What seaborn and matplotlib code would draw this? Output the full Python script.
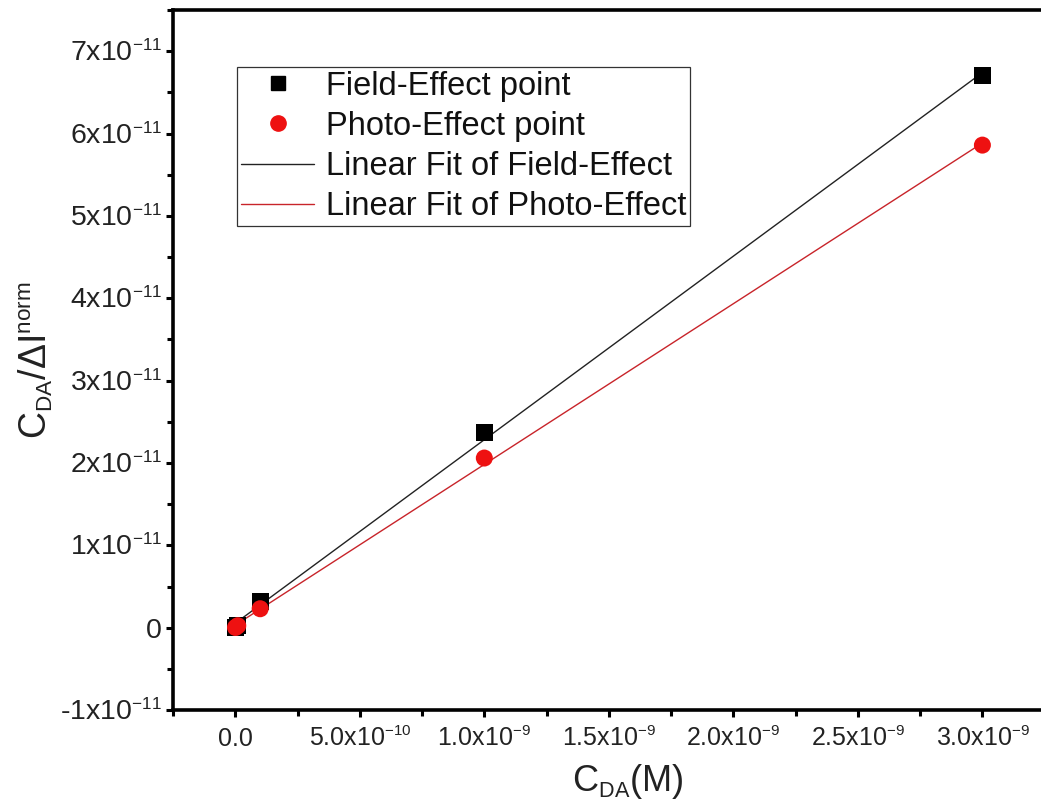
import numpy as np
import pandas as pd
import matplotlib
matplotlib.use("Agg")
import matplotlib.pyplot as plt
import matplotlib._mathtext as _mt
import seaborn as sns
from matplotlib.ticker import MultipleLocator, FixedLocator
from matplotlib.lines import Line2D

# Concentration of DA (M) and normalised response ratio for both effects
conc = [1e-12, 1e-11, 1e-10, 1e-9, 3e-9]
field_ratio = [3.0e-14, 2.8e-13, 3.2e-12, 2.37e-11, 6.71e-11]
photo_ratio = [2.5e-14, 2.4e-13, 2.3e-12, 2.06e-11, 5.86e-11]

series_names = ["Field-Effect point", "Photo-Effect point"]
fit_names = ["Linear Fit of Field-Effect", "Linear Fit of Photo-Effect"]

x_ticks = [0.0, 5e-10, 1e-9, 1.5e-9, 2e-9, 2.5e-9, 3e-9]
x_tick_labels = ["0.0", "5.0x10$^{-10}$", "1.0x10$^{-9}$", "1.5x10$^{-9}$",
                 "2.0x10$^{-9}$", "2.5x10$^{-9}$", "3.0x10$^{-9}$"]
y_ticks = [-1e-11, 0, 1e-11, 2e-11, 3e-11, 4e-11, 5e-11, 6e-11, 7e-11]
y_tick_labels = ["-1x10$^{-11}$", "0", "1x10$^{-11}$", "2x10$^{-11}$", "3x10$^{-11}$",
                 "4x10$^{-11}$", "5x10$^{-11}$", "6x10$^{-11}$", "7x10$^{-11}$"]

sns.set_style("ticks")
plt.rcParams["font.family"] = ["Liberation Sans", "DejaVu Sans"]
plt.rcParams["mathtext.fontset"] = "custom"
plt.rcParams["mathtext.rm"] = "Liberation Sans"
plt.rcParams["mathtext.it"] = "Liberation Sans:italic"
plt.rcParams["mathtext.bf"] = "Liberation Sans:bold"
# smaller super/subscripts, Origin-style
_mt.SHRINK_FACTOR = 0.6

df = pd.DataFrame({
    "conc": conc * 2,
    "ratio": field_ratio + photo_ratio,
    "series": [series_names[0]] * len(conc) + [series_names[1]] * len(conc),
})

fig = plt.figure(figsize=(10.41, 8.11), dpi=100)
# the frame runs past the right edge of the canvas
ax = fig.add_axes([0.1662, 0.1245, 0.8732, 0.8631])

line_colors = ["#222222", "#c8242a"]
for name, fname, lc in zip(series_names, fit_names, line_colors):
    sub = df[df["series"] == name]
    sns.regplot(data=sub, x="conc", y="ratio", scatter=False, ci=None, truncate=True,
                color=lc, line_kws={"lw": 1.0, "label": fname}, ax=ax)

sns.scatterplot(data=df, x="conc", y="ratio", hue="series", style="series",
                hue_order=series_names, style_order=series_names,
                palette=["black", "#ee1111"], markers=["s", "o"],
                s=150, edgecolor="none", linewidth=0, zorder=3, ax=ax, legend=False)

ax.set_xlim(-2.5e-10, 3.4e-9)
ax.set_ylim(-1.0e-11, 7.5e-11)

ax.xaxis.set_major_locator(FixedLocator(x_ticks))
ax.set_xticklabels(x_tick_labels, fontsize=18)
ax.yaxis.set_major_locator(FixedLocator(y_ticks))
ax.set_yticklabels(y_tick_labels, fontsize=20.5)
ax.xaxis.set_minor_locator(MultipleLocator(2.5e-10))
ax.yaxis.set_minor_locator(MultipleLocator(0.5e-11))
ax.tick_params(which="major", direction="out", length=5, width=2.2, color="black",
               labelcolor="#222222", pad=3)
ax.tick_params(axis="x", which="major", pad=7)
ax.tick_params(which="minor", direction="out", length=4, width=2.2, color="black")

for sp in ax.spines.values():
    sp.set_linewidth(2.6)
    sp.set_color("black")
    sp.set_visible(True)

ax.set_xlabel("C$_{\\mathrm{DA}}$(M)", fontsize=26, labelpad=8, color="#222222")
ax.set_ylabel("C$_{\\mathrm{DA}}$/ΔI$^{\\mathrm{norm}}$", fontsize=27, labelpad=4,
              color="#222222")

# Legend: markers first, then fit lines
handles = [
    Line2D([], [], ls="none", marker="s", color="black", markersize=10),
    Line2D([], [], ls="none", marker="o", color="#ee1111", markersize=11),
    Line2D([], [], color=line_colors[0], lw=1.0),
    Line2D([], [], color=line_colors[1], lw=1.0),
]
labels = series_names + fit_names
leg = ax.legend(handles, labels, loc="upper left", bbox_to_anchor=(0.0705, 0.919),
                borderaxespad=0, fontsize=23.5, frameon=True, fancybox=False,
                labelspacing=0.28, handlelength=2.25, handletextpad=0.35,
                borderpad=0.12, edgecolor="black")
leg.get_frame().set_linewidth(0.9)
for t in leg.get_texts():
    t.set_color("#111111")

fig.savefig("out.png", dpi=100)
